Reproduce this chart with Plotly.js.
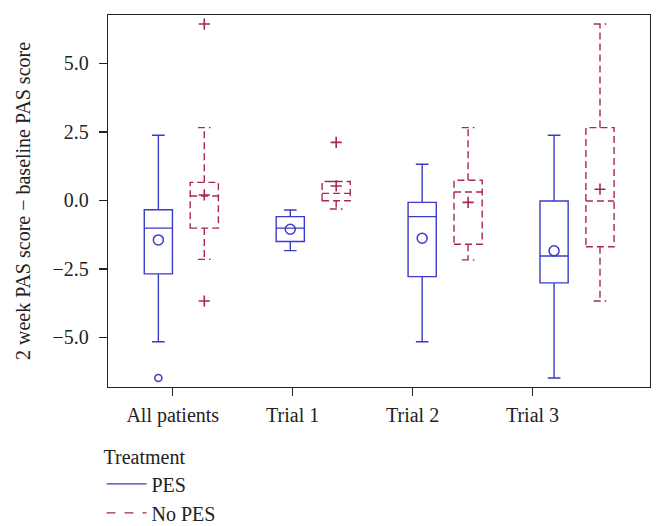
<!DOCTYPE html>
<html>
<head>
<meta charset="utf-8">
<script src="https://cdn.plot.ly/plotly-3.0.1.min.js"></script>
<style>
  body { margin: 0; background: #fff; }
  #plot { width: 665px; height: 526px; }
</style>
</head>
<body>
<div id="plot"></div>
<script>
// groups on the x axis
const groups = ['All patients', 'Trial 1', 'Trial 2', 'Trial 3'];

// PES boxes
const pesLow = [-5.16, -1.83, -5.16, -6.48];
const pesQ1 = [-2.68, -1.50, -2.78, -3.01];
const pesMedian = [-1.01, -1.01, -0.59, -2.03];
const pesQ3 = [-0.34, -0.59, -0.07, -0.02];
const pesHigh = [2.38, -0.35, 1.32, 2.38];
const pesMean = [-1.44, -1.05, -1.38, -1.84];
const pesOutGroup = [0];
const pesOutVal = [-6.48];

// No PES boxes
const noLow = [-2.15, -0.31, -2.17, -3.67];
const noQ1 = [-1.01, -0.01, -1.60, -1.69];
const noMedian = [0.16, 0.26, 0.31, -0.02];
const noQ3 = [0.66, 0.69, 0.74, 2.66];
const noHigh = [2.66, 0.69, 2.66, 6.44];
const noMean = [0.20, 0.53, -0.07, 0.41];
const noOutGroup = [0, 0, 1];
const noOutVal = [6.44, -3.67, 2.12];

const blue = '#3b3bc6';
const red = '#a8294c';
const font = 'Liberation Serif, Times New Roman, serif';

// box slots are a bit wider than the tick spacing in the original
const step = 1.1, pesShift = -0.12, noShift = 0.263;
const pos = (g, shift) => g * step + shift;
const idx = groups.map((_, i) => i);

const data = [
  {
    type: 'box', x: idx.map(i => pos(i, pesShift)),
    q1: pesQ1, median: pesMedian, q3: pesQ3,
    lowerfence: pesLow, upperfence: pesHigh,
    width: 0.235, whiskerwidth: 0.45, boxpoints: false,
    fillcolor: 'rgba(0,0,0,0)', line: { color: blue, width: 1.4 },
    showlegend: false, hoverinfo: 'skip'
  },
  {
    type: 'box', x: idx.map(i => pos(i, noShift)),
    q1: noQ1, median: noMedian, q3: noQ3,
    lowerfence: noLow, upperfence: noHigh,
    width: 0.235, whiskerwidth: 0.45, boxpoints: false,
    fillcolor: 'rgba(0,0,0,0)', line: { color: red, width: 1.4 },
    showlegend: false, hoverinfo: 'skip'
  },
  {
    type: 'scatter', mode: 'markers',
    x: idx.map(i => pos(i, pesShift)), y: pesMean,
    marker: { symbol: 'circle-open', size: 10, color: blue, line: { width: 1.5, color: blue } },
    showlegend: false, hoverinfo: 'skip'
  },
  {
    type: 'scatter', mode: 'markers',
    x: pesOutGroup.map(g => pos(g, pesShift)), y: pesOutVal,
    marker: { symbol: 'circle-open', size: 7, color: blue, line: { width: 1.5, color: blue } },
    showlegend: false, hoverinfo: 'skip'
  },
  {
    type: 'scatter', mode: 'markers',
    x: idx.map(i => pos(i, noShift)), y: noMean,
    marker: { symbol: 'cross-thin', size: 8, color: red, line: { width: 1.6, color: red } },
    showlegend: false, hoverinfo: 'skip'
  },
  {
    type: 'scatter', mode: 'markers',
    x: noOutGroup.map(g => pos(g, noShift)), y: noOutVal,
    marker: { symbol: 'cross-thin', size: 8, color: red, line: { width: 1.6, color: red } },
    showlegend: false, hoverinfo: 'skip'
  },
  // legend entries
  {
    type: 'scatter', mode: 'lines', x: [null], y: [null], name: 'PES',
    line: { color: blue, width: 1.4 }
  },
  {
    type: 'scatter', mode: 'lines', x: [null], y: [null], name: 'No PES',
    line: { color: red, width: 1.4, dash: 'dash' }
  }
];

const layout = {
  width: 665, height: 526,
  margin: { l: 108, r: 15, t: 15, b: 139, autoexpand: false },
  paper_bgcolor: '#fff', plot_bgcolor: '#fff',
  font: { family: font, size: 20, color: '#222' },
  xaxis: {
    range: [-0.54, 3.98], tickvals: idx, ticktext: groups,
    showgrid: false, zeroline: false,
    showline: true, mirror: true, linecolor: '#222', linewidth: 1.3,
    ticks: 'outside', ticklen: 8, tickcolor: '#222', tickwidth: 1.3,
    ticklabelstandoff: 2
  },
  yaxis: {
    range: [-6.81, 6.77], tickvals: [-5, -2.5, 0, 2.5, 5], tickformat: '.1f',
    showgrid: false, zeroline: false,
    showline: true, mirror: true, linecolor: '#222', linewidth: 1.3,
    ticks: 'outside', ticklen: 8, tickcolor: '#222', tickwidth: 1.3,
    ticklabelstandoff: 6,
    title: { text: '2 week PAS score \u2212 baseline PAS score', standoff: 16, font: { size: 20 } }
  },
  showlegend: true,
  legend: {
    title: { text: 'Treatment', font: { size: 20 } },
    x: -0.012, xanchor: 'left', y: -0.138, yanchor: 'top',
    orientation: 'v', bgcolor: 'rgba(0,0,0,0)', tracegroupgap: 0,
    itemwidth: 40, font: { size: 20 }
  }
};

Plotly.newPlot('plot', data, layout, { displayModeBar: false, staticPlot: true }).then(gd => {
  // dashed outline for the No PES boxes
  const boxes = gd.querySelectorAll('.boxlayer .trace.boxes');
  if (boxes[1]) {
    boxes[1].querySelectorAll('path').forEach(p => { p.style.strokeDasharray = '7px,4px'; });
  }
});
</script>
</body>
</html>
